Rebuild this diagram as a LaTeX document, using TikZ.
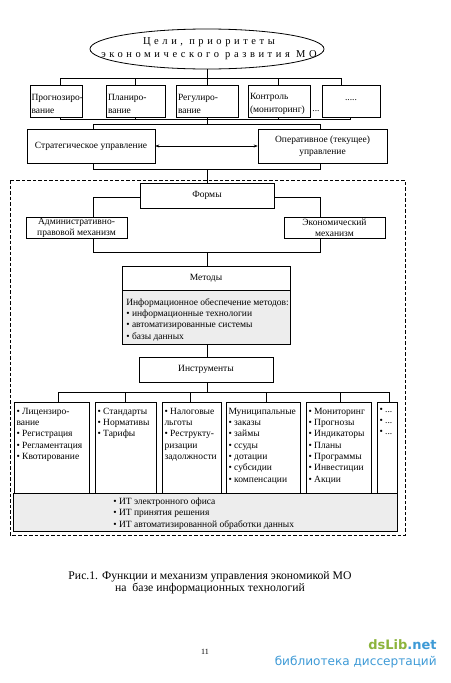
\documentclass[tikz,border=0pt]{standalone}
\usepackage{fontspec}
\setmainfont{Liberation Serif}
\newfontfamily\wmfont{DejaVu Sans}
\usetikzlibrary{shapes.geometric,arrows.meta}
\definecolor{wmgreen}{RGB}{140,180,60}
\definecolor{wmblue}{RGB}{62,154,214}
\begin{document}
\begin{tikzpicture}[x=1pt,y=-1pt,
  line width=0.6pt,
  every node/.style={inner sep=0pt},
  txt/.style={font=\fontsize{9.5}{11.3}\selectfont},
  box/.style={draw, rectangle, inner sep=2pt, font=\fontsize{9.5}{11.5}\selectfont},
  ftxt/.style={anchor=west, align=left, font=\fontsize{9.5}{13}\selectfont},
  colbox/.style={draw, rectangle, minimum height=91},
  coltxt/.style={anchor=north west, align=left, font=\fontsize{9.5}{11.3}\selectfont},
  shade/.style={fill=gray!14}
]
\useasboundingbox (0,0) rectangle (450,683);

% goal ellipse
\node[ellipse, draw, line width=0.8pt, minimum width=234, minimum height=40] (goal) at (207,49) {};
\node[font=\fontsize{10.5}{13}\selectfont\addfontfeatures{LetterSpace=34}, align=center] (goaltxt) at (209,48.5) {Цели, приоритеты\\экономического развития МО};

% functions row
\node[draw, minimum width=52, minimum height=32] (f1) at (56,101) {};
\node[draw, minimum width=59, minimum height=32] (f2) at (135.5,101) {};
\node[draw, minimum width=62, minimum height=32] (f3) at (207,101) {};
\node[draw, minimum width=62, minimum height=32] (f4) at (279,101) {};
\node[draw, minimum width=58, minimum height=32] (f5) at (351,101) {};
\node[ftxt] (f1t) at ([xshift=1.5pt,yshift=-3pt]f1.west) {Прогнозиро-\\вание};
\node[ftxt] (f2t) at ([xshift=2pt,yshift=-3pt]f2.west) {Планиро-\\вание};
\node[ftxt] (f3t) at ([xshift=2pt,yshift=-3pt]f3.west) {Регулиро-\\вание};
\node[ftxt] (f4t) at ([xshift=2pt,yshift=-3pt]f4.west) {Контроль\\(мониторинг)};
\node[txt] (f5t) at ([yshift=1pt]f5.center) {.....};
\node[txt] (fdots) at (316,111) {...};

\coordinate (tb1) at (60,78);
\coordinate (tb2) at (341,78);
\draw (goal.south) -- (goal.south |- tb1);
\draw (tb1) -- (tb2);
\draw (tb1) -- (tb1 |- f1.north);
\draw (f2.north |- tb1) -- (f2.north);
\draw (f3.north |- tb1) -- (f3.north);
\draw (278,78) -- (278,0 |- f4.north);
\draw (tb2) -- (tb2 |- f5.north);

\coordinate (bb1) at (60,119);
\coordinate (bb2) at (350,119);
\draw (bb1 |- f1.south) -- (bb1) -- (bb2) -- (bb2 |- f5.south);
\draw (f2.south) -- (f2.south |- bb1);
\draw (278,0 |- f4.south) -- (278,119);

% management
\node[box, minimum width=128, minimum height=34] (s) at (91,146) {Стратегическое управление};
\node[box, minimum width=129, minimum height=34, align=center] (o) at (322.5,146) {Оперативное (текущее)\\управление};
\draw[{Stealth[length=4pt,width=3pt]}-{Stealth[length=4pt,width=3pt]}, line width=0.5pt] (s.east) -- (o.west);

\coordinate (sb) at (207,124);
\draw (f3.south) -- (sb);
\draw (93,0 |- s.north) -- (93,124) -- (320,124) -- (320,0 |- o.north);
\draw (93,0 |- s.south) -- (93,169) -- (320,169) -- (320,0 |- o.south);

% dashed frame
\draw[dash pattern=on 3.5pt off 2pt, line width=0.7pt] (10,180) rectangle (405,535);

% forms
\node[box, minimum width=134, minimum height=25] (forms) at (207,195.5) {Формы};
\draw (207,169) -- (forms.north);
\node[draw, minimum width=101, minimum height=21, align=center, font=\fontsize{9.5}{11}\selectfont] (adm) at (76.5,227.5) {Административно-\\правовой механизм};
\node[draw, minimum width=101, minimum height=21, align=center, font=\fontsize{9.5}{11}\selectfont] (eco) at (334.5,227.5) {Экономический\\механизм};
\draw (forms.west |- 0,197) -- (93,197) -- (93,0 |- adm.north);
\draw (forms.east |- 0,197) -- (320,197) -- (320,0 |- eco.north);
\draw (93,0 |- adm.south) -- (93,252) -- (320,252) -- (320,0 |- eco.south);

% methods
\node[box, minimum width=168, minimum height=24] (meth) at (206,278) {Методы};
\node[draw, shade, minimum width=168, minimum height=54, anchor=north] (methinfo) at (meth.south) {};
\node[coltxt] (methtxt) at (126,298) {Информационное обеспечение методов:\\• информационные технологии\\• автоматизированные системы\\• базы данных};
\draw (207,252) -- (207,0 |- meth.north);

% instruments
\node[box, minimum width=134, minimum height=25] (instr) at (206,369.5) {Инструменты};
\draw (207,0 |- methinfo.south) -- (207,0 |- instr.north);
\coordinate (ib1) at (58,392);
\coordinate (ib2) at (389,392);
\draw (207,0 |- instr.south) -- (207,392);
\draw (ib1) -- (ib2);

\node[colbox, minimum width=75] (c1) at (51.5,447.5) {};
\node[colbox, minimum width=61] (c2) at (125.5,447.5) {};
\node[colbox, minimum width=59] (c3) at (191.5,447.5) {};
\node[colbox, minimum width=74] (c4) at (263,447.5) {};
\node[colbox, minimum width=65] (c5) at (338.5,447.5) {};
\node[colbox, minimum width=20] (c6) at (387,447.5) {};

\draw (ib1) -- (ib1 |- c1.north);
\draw (125,392) -- (125,0 |- c2.north);
\draw (190,392) -- (190,0 |- c3.north);
\draw (266,392) -- (266,0 |- c4.north);
\draw (340,392) -- (340,0 |- c5.north);
\draw (ib2) -- (ib2 |- c6.north);

\node[coltxt] (t1) at ([xshift=2.5pt,yshift=-6pt]c1.north west) {• Лицензиро-\\вание\\• Регистрация\\• Регламентация\\• Квотирование};
\node[coltxt] (t2) at ([xshift=2.5pt,yshift=-6pt]c2.north west) {• Стандарты\\• Нормативы\\• Тарифы};
\node[coltxt] (t3) at ([xshift=2.5pt,yshift=-6pt]c3.north west) {• Налоговые\\льготы\\• Реструкту-\\ризации\\задолжности};
\node[coltxt] (t4) at ([xshift=2.5pt,yshift=-6pt]c4.north west) {Муниципальные\\• заказы\\• займы\\• ссуды\\• дотации\\• субсидии\\• компенсации};
\node[coltxt] (t5) at ([xshift=2.5pt,yshift=-6pt]c5.north west) {• Мониторинг\\• Прогнозы\\• Индикаторы\\• Планы\\• Программы\\• Инвестиции\\• Акции};
\node[coltxt] (t6) at ([xshift=2.5pt,yshift=-6pt]c6.north west) {• ...\\• ...\\• ...};

% IT box
\node[draw, shade, minimum width=384, minimum height=38] (it) at (205,512) {};
\node[coltxt, anchor=west] (ittxt) at (113,513.5) {• ИТ электронного офиса\\• ИТ принятия решения\\• ИТ автоматизированной обработки данных};

% caption
\node[font=\fontsize{11.7}{12}\selectfont, align=center] (cap) at (210,582.5) {Рис.1. Функции и механизм управления экономикой МО\\на\ \ базе информационных технологий};
\node[font=\fontsize{8}{9}\selectfont] (pnum) at (205,652) {11};

% watermark
\node[font=\wmfont\bfseries\fontsize{13}{14}\selectfont, anchor=east] (wm1) at (437,645) {\textcolor{wmgreen}{dsLib}\textcolor{wmblue}{.net}};
\node[font=\wmfont\fontsize{12.1}{13}\selectfont, text=wmblue, anchor=east] (wm2) at (437,662) {библиотека диссертаций};
\end{tikzpicture}
\end{document}
